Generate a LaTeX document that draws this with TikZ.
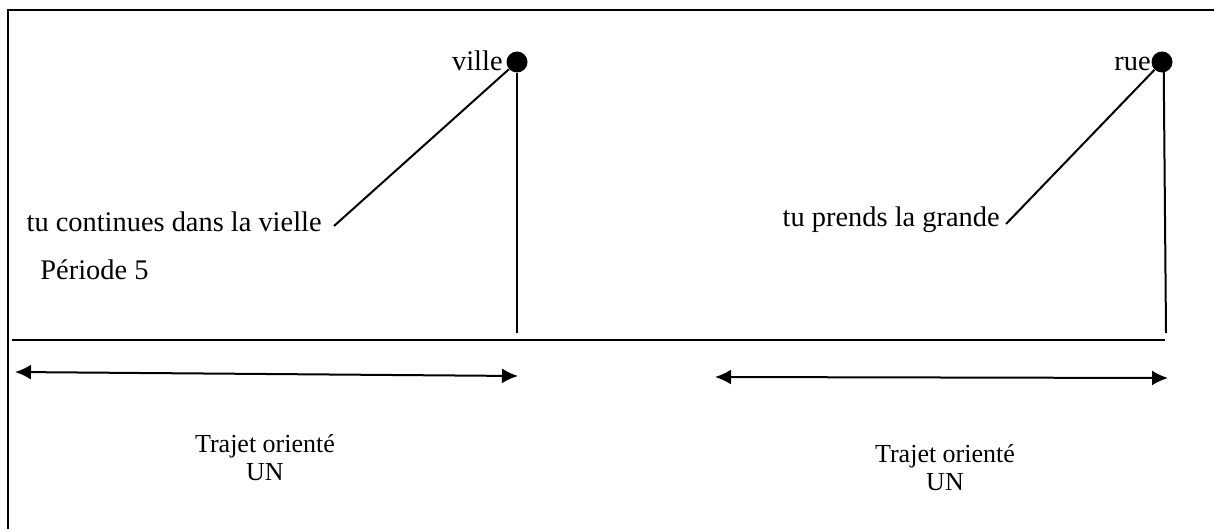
\documentclass[tikz,border=0pt]{standalone}
\usepackage{fontspec}
\setmainfont{Liberation Serif}
\usetikzlibrary{arrows.meta, positioning}

\begin{document}
\begin{tikzpicture}[
    x=0.5pt, y=-0.5pt,
    >={Latex[length=8pt,width=7.5pt]},
    txt/.style={font=\fontsize{14.2}{13}\selectfont, inner sep=1pt},
    trajet/.style={font=\fontsize{13}{14}\selectfont, inner sep=1pt, align=center},
    dot/.style={circle, fill=black, inner sep=0pt, minimum size=10.5pt},
    line/.style={line width=1pt},
    span/.style={<->, line width=1pt}
]
    \useasboundingbox (0,0) rectangle (1214,529);
    \draw[line] (8,529) -- (8,10) -- (1214,10);

    % the two places
    \node[dot] (ville) at (517,62) {};
    \node[dot] (rue) at (1162,62) {};
    \node[txt, anchor=base east] (villetext) at (505,71) {ville};
    \node[txt, anchor=base east] (ruetext) at (1153,71) {rue};

    \node[txt, anchor=east] (continue) at (324,222) {tu continues dans la vielle};
    \node[txt, anchor=east] (grande) at (1002,220) {tu prends la grande};
    \node[txt, anchor=west] (periode) at (38,270) {Période 5};

    \coordinate (villefoot) at (517,333);
    \coordinate (ruefoot) at (1166,333);
    \draw[line] (ville) -- (villefoot);
    \draw[line] (rue.south east) ++(-3pt,0) -- (ruefoot);
    \draw[line] (ville) -- ([xshift=5pt,yshift=-2pt]continue.east);
    \draw[line] (rue) -- ([xshift=2pt,yshift=-2pt]grande.east);

    % time line and the two stretches
    \coordinate (baseL) at (12,340);
    \coordinate (baseR) at (1165,340);
    \draw[line] (baseL) -- (baseR);

    \coordinate (spanAL) at (15,372);
    \coordinate (spanAR) at (518,376);
    \coordinate (spanBL) at (715,377);
    \coordinate (spanBR) at (1168,378);
    \draw[span] (spanAL) -- (spanAR);
    \draw[span] (spanBL) -- (spanBR);

    \node[trajet] (trajetA) at (265,458) {Trajet orienté\\UN};
    \node[trajet] (trajetB) at (945,468) {Trajet orienté\\UN};
\end{tikzpicture}
\end{document}
